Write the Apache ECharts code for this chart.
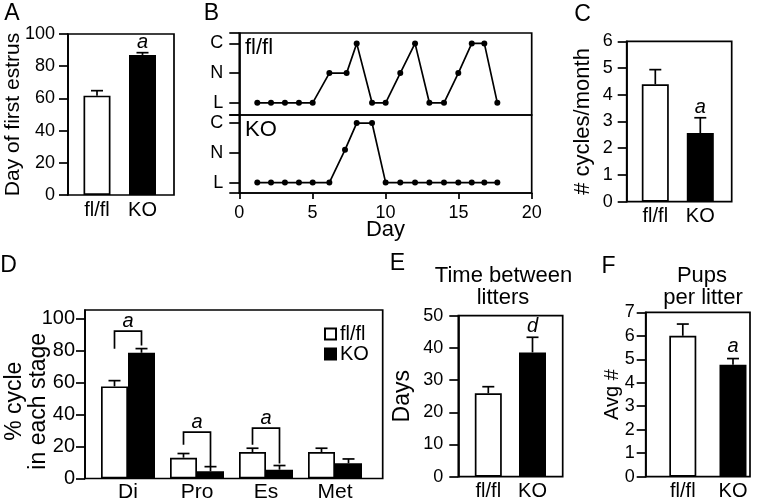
<!DOCTYPE html>
<html><head><meta charset="utf-8">
<script src="https://cdn.jsdelivr.net/npm/echarts@6/dist/echarts.min.js"></script>
<style>html,body{margin:0;padding:0;background:#fff}#c{width:762px;height:499px}</style>
</head><body><div id="c"></div>
<script>
// ---------- DATA ----------
const groups = ['fl/fl', 'KO'];
const groupFill = ['#ffffff', '#000000'];

// A: day of first estrus
const firstEstrus = [61.7, 87.0];
const firstEstrusErr = [3.1, 1.4];
const firstEstrusSig = ['', 'a'];

// B: representative cycles (L=0, N=1, C=2)
const stageLabels = ['L', 'N', 'C'];
const dayFlfl = [1.23, 2.17, 3.12, 4.08, 5.02, 6.16, 7.34, 8.03, 9.08, 10.01, 11.01, 12.02, 13.0, 14.0, 14.98, 15.9, 16.76, 17.65];
const stageFlfl = [0, 0, 0, 0, 0, 1, 1, 2, 0, 0, 1, 2, 0, 0, 1, 2, 2, 0];
const dayKO = [1.23, 2.17, 3.12, 4.08, 5.02, 6.16, 7.23, 8.03, 9.08, 10.01, 11.01, 12.02, 13.0, 14.0, 14.98, 15.9, 16.76, 17.65];
const stageKO = [0, 0, 0, 0, 0, 0, 1.1, 2, 2, 0, 0, 0, 0, 0, 0, 0, 0, 0];

// C: cycles per month
const cyclesPerMonth = [4.39, 2.57];
const cyclesErr = [0.55, 0.57];
const cyclesSig = ['', 'a'];

// D: % of cycle in each stage
const stages = ['Di', 'Pro', 'Es', 'Met'];
const stageFlflPct = [57.5, 13.0, 16.5, 16.5];
const stageFlflErr = [3.6, 2.6, 2.4, 2.4];
const stageKOPct = [78.5, 4.5, 5.5, 9.5];
const stageKOErr = [2.6, 2.9, 2.6, 2.7];
const bracketStage = [0, 1, 2];
const bracketTop = [92, 29, 31.5];
const bracketLeftEnd = [81, 21, 21];
const bracketRightEnd = [83, 7.8, 9.3];
const bracketSig = ['a', 'a', 'a'];

// E: time between litters
const litterInterval = [25.9, 38.6];
const litterErr = [2.05, 4.7];
const litterSig = ['', 'd'];

// F: pups per litter
const pups = [6.0, 4.77];
const pupsErr = [0.5, 0.26];
const pupsSig = ['', 'a'];

// ---------- STYLE ----------
const FONT = 'Liberation Sans, Arial, Helvetica, sans-serif';
const LW = 1.7;
const black = '#000';

function outerGrid(l, t, w, h) {
  return { left: l, top: t, width: w, height: h, show: true, borderColor: black, borderWidth: LW,
           backgroundColor: 'transparent', containLabel: false, outerBoundsMode: 'none' };
}
function innerGrid(l, t, w, h) {
  return { left: l, top: t, width: w, height: h, containLabel: false, outerBoundsMode: 'none' };
}
function hiddenX(g) { return { gridIndex: g, type: 'value', show: false, min: 0, max: 1 }; }
function catX(g, data, fs, margin) {
  return { gridIndex: g, type: 'category', data: data,
    axisLine: { show: false }, axisTick: { show: false }, splitLine: { show: false },
    axisLabel: { color: black, fontSize: fs, fontFamily: FONT, margin: margin, interval: 0 } };
}
function valY(g, max, ticks, fs, margin, name, nameGap, nameFs, namePad) {
  return { gridIndex: g, type: 'value', min: 0, max: max,
    axisLine: { show: true, lineStyle: { color: black, width: LW } },
    axisTick: { show: true, length: 9, customValues: ticks, lineStyle: { color: black, width: LW } },
    axisLabel: { color: black, fontSize: fs, fontFamily: FONT, margin: margin, customValues: ticks },
    splitLine: { show: false },
    name: name, nameLocation: 'middle', nameGap: nameGap, nameRotate: 90, nameMoveOverlap: false,
    nameTextStyle: { color: black, fontSize: nameFs, fontFamily: FONT, padding: namePad || 0, lineHeight: nameFs + 1 } };
}
function hiddenY(g, max) { return { gridIndex: g, type: 'value', show: false, min: 0, max: max }; }

function barSeries(axis, values, name, bw) {
  return { type: 'bar', name: name, xAxisIndex: axis, yAxisIndex: axis, barWidth: bw, silent: true,
    data: values.map((v, i) => ({ value: v, itemStyle: { color: groupFill[i], borderColor: black, borderWidth: LW } })) };
}
function errorSeries(axis, values, errs, sigs, offset, capHalf, sigGap) {
  return { type: 'custom', xAxisIndex: axis, yAxisIndex: axis, z: 5, silent: true,
    data: values.map((v, i) => [i, v, errs[i]]),
    renderItem: function (params, api) {
      const i = api.value(0), v = api.value(1), e = api.value(2);
      const base = api.coord([i, v]);
      const top = api.coord([i, v + e]);
      const x = base[0] + offset;
      const ch = [
        { type: 'line', shape: { x1: x, y1: base[1], x2: x, y2: top[1] }, style: { stroke: black, lineWidth: LW } },
        { type: 'line', shape: { x1: x - capHalf, y1: top[1], x2: x + capHalf, y2: top[1] }, style: { stroke: black, lineWidth: LW } }
      ];
      if (sigs && sigs[params.dataIndex]) {
        ch.push({ type: 'text', x: x, y: top[1] - sigGap,
          style: { text: sigs[params.dataIndex], fill: black, fontSize: 20, fontStyle: 'italic', fontFamily: FONT, align: 'center', verticalAlign: 'middle' } });
      }
      return { type: 'group', children: ch };
    } };
}

const option = {
  animation: false,
  backgroundColor: '#fff',
  textStyle: { fontFamily: FONT, color: black },
  grid: [
    outerGrid(68, 34, 106, 161), innerGrid(74.25, 34, 91, 161),          // A
    outerGrid(239.3, 33, 292.4, 82), outerGrid(239.3, 115, 292.4, 78),    // B
    outerGrid(626.7, 41.3, 105, 160.4), innerGrid(632.8, 41.3, 90, 160.4),// C
    outerGrid(85, 310, 297.7, 168.5), innerGrid(93.5, 310, 276, 168.5),   // D
    outerGrid(458.3, 315.7, 104.4, 161), innerGrid(466.2, 315.7, 88.4, 161), // E
    outerGrid(645.7, 312.3, 104.3, 164.4), innerGrid(657.7, 312.3, 100.4, 164.4) // F
  ],
  xAxis: [
    hiddenX(0), catX(1, groups, 20, 5),
    { gridIndex: 2, type: 'value', min: 0, max: 20, interval: 5, show: false },
    { gridIndex: 3, type: 'value', min: 0, max: 20, interval: 5,
      axisLine: { show: true, onZero: false, lineStyle: { color: black, width: LW } },
      axisTick: { show: true, length: 6, lineStyle: { color: black, width: LW } },
      axisLabel: { color: black, fontSize: 18, fontFamily: FONT, margin: 11 },
      splitLine: { show: false },
      name: 'Day', nameLocation: 'middle', nameGap: 26, nameMoveOverlap: false,
      nameTextStyle: { color: black, fontSize: 22, fontFamily: FONT } },
    hiddenX(4), catX(5, groups, 20, 5),
    hiddenX(6), catX(7, stages, 21, 3),
    hiddenX(8), catX(9, groups, 20, 5),
    hiddenX(10), catX(11, groups, 20, 5)
  ],
  yAxis: [
    valY(0, 100, [0, 20, 40, 60, 80, 100], 18, 13, 'Day of first estrus', 44, 21),
    hiddenY(1, 100),
    { gridIndex: 2, type: 'value', min: -0.41, max: 2.35,
      axisLine: { show: true, onZero: false, lineStyle: { color: black, width: LW } },
      axisTick: { show: true, length: 10, customValues: [-0.41, 0, 1, 2, 2.35], lineStyle: { color: black, width: LW } },
      axisLabel: { color: black, fontSize: 18, fontFamily: FONT, margin: 16, customValues: [0, 1, 2], formatter: v => stageLabels[Math.round(v)] },
      splitLine: { show: false } },
    { gridIndex: 3, type: 'value', min: -0.35, max: 2.27,
      axisLine: { show: true, onZero: false, lineStyle: { color: black, width: LW } },
      axisTick: { show: true, length: 10, customValues: [-0.35, 0, 1, 2, 2.27], lineStyle: { color: black, width: LW } },
      axisLabel: { color: black, fontSize: 18, fontFamily: FONT, margin: 16, customValues: [0, 1, 2], formatter: v => stageLabels[Math.round(v)] },
      splitLine: { show: false } },
    valY(4, 6, [0, 1, 2, 3, 4, 5, 6], 18, 14, '# cycles/month', 32, 22),
    hiddenY(5, 6),
    valY(6, 105.2, [0, 20, 40, 60, 80, 100], 20, 10, '% cycle\nin each stage', 34, 23, [0, 14, 0, 0]),
    hiddenY(7, 105.2),
    valY(8, 50, [0, 10, 20, 30, 40, 50], 18, 15, 'Days', 44, 23),
    hiddenY(9, 50),
    valY(10, 7, [0, 1, 2, 3, 4, 5, 6, 7], 18, 11, 'Avg #', 23, 20),
    hiddenY(11, 7)
  ],
  legend: {
    data: ['fl/fl', 'KO'], orient: 'vertical', left: 324, top: 324, padding: 0,
    icon: 'rect', itemWidth: 11, itemHeight: 11, itemGap: 0,
    textStyle: { color: black, fontSize: 20, fontFamily: FONT, lineHeight: 19, padding: [0, 0, 0, -1] },
    selectedMode: false
  },
  series: [
    // A
    barSeries(1, firstEstrus, 'firstEstrus', 27),
    errorSeries(1, firstEstrus, firstEstrusErr, firstEstrusSig, 0, 6, 10),
    // B
    { type: 'line', xAxisIndex: 2, yAxisIndex: 2, data: dayFlfl.map((d, i) => [d, stageFlfl[i]]),
      symbol: 'circle', symbolSize: 6, lineStyle: { color: black, width: LW }, itemStyle: { color: black }, silent: true },
    { type: 'line', xAxisIndex: 3, yAxisIndex: 3, data: dayKO.map((d, i) => [d, stageKO[i]]),
      symbol: 'circle', symbolSize: 6, lineStyle: { color: black, width: LW }, itemStyle: { color: black }, silent: true },
    // C
    barSeries(5, cyclesPerMonth, 'cycles', 27),
    errorSeries(5, cyclesPerMonth, cyclesErr, cyclesSig, 0, 6, 10),
    // D
    { type: 'bar', name: 'fl/fl', xAxisIndex: 7, yAxisIndex: 7, barWidth: 27, barGap: '0%', silent: true,
      data: stageFlflPct, itemStyle: { color: '#fff', borderColor: black, borderWidth: LW } },
    { type: 'bar', name: 'KO', xAxisIndex: 7, yAxisIndex: 7, barWidth: 27, barGap: '0%', silent: true,
      data: stageKOPct, itemStyle: { color: black, borderColor: black, borderWidth: LW } },
    errorSeries(7, stageFlflPct, stageFlflErr, null, -13.5, 6, 10),
    errorSeries(7, stageKOPct, stageKOErr, null, 13.5, 6, 10),
    { type: 'custom', xAxisIndex: 7, yAxisIndex: 7, z: 6, silent: true,
      data: bracketStage.map((c, k) => [c, bracketTop[k], bracketLeftEnd[k], bracketRightEnd[k]]),
      renderItem: function (params, api) {
        const c = api.value(0);
        const pTop = api.coord([c, api.value(1)]);
        const pL = api.coord([c, api.value(2)]);
        const pR = api.coord([c, api.value(3)]);
        const xl = pTop[0] - 13.5, xr = pTop[0] + 13.5;
        return { type: 'group', children: [
          { type: 'polyline', shape: { points: [[xl, pL[1]], [xl, pTop[1]], [xr, pTop[1]], [xr, pR[1]]] },
            style: { stroke: black, lineWidth: LW, fill: null } },
          { type: 'text', x: pTop[0], y: pTop[1] - 10,
            style: { text: bracketSig[params.dataIndex], fill: black, fontSize: 20, fontStyle: 'italic', fontFamily: FONT, align: 'center', verticalAlign: 'middle' } }
        ] };
      } },
    // E
    barSeries(9, litterInterval, 'litters', 27),
    errorSeries(9, litterInterval, litterErr, litterSig, 0, 6, 11),
    // F
    barSeries(11, pups, 'pups', 27),
    errorSeries(11, pups, pupsErr, pupsSig, 0, 6, 12)
  ],
  graphic: [
    { type: 'text', x: 12, y: 14, style: { text: 'A', fontSize: 23, fontFamily: FONT, fill: black, align: 'center', verticalAlign: 'middle' } },
    { type: 'text', x: 211.5, y: 14, style: { text: 'B', fontSize: 23, fontFamily: FONT, fill: black, align: 'center', verticalAlign: 'middle' } },
    { type: 'text', x: 582.5, y: 14.5, style: { text: 'C', fontSize: 23, fontFamily: FONT, fill: black, align: 'center', verticalAlign: 'middle' } },
    { type: 'text', x: 8.5, y: 266, style: { text: 'D', fontSize: 23, fontFamily: FONT, fill: black, align: 'center', verticalAlign: 'middle' } },
    { type: 'text', x: 397.5, y: 264, style: { text: 'E', fontSize: 23, fontFamily: FONT, fill: black, align: 'center', verticalAlign: 'middle' } },
    { type: 'text', x: 608.5, y: 266.5, style: { text: 'F', fontSize: 23, fontFamily: FONT, fill: black, align: 'center', verticalAlign: 'middle' } },
    { type: 'text', x: 245, y: 48, style: { text: 'fl/fl', fontSize: 22, fontFamily: FONT, fill: black, align: 'left', verticalAlign: 'middle' } },
    { type: 'text', x: 245, y: 130, style: { text: 'KO', fontSize: 22, fontFamily: FONT, fill: black, align: 'left', verticalAlign: 'middle' } },
    { type: 'text', x: 503.5, y: 276, style: { text: 'Time between', fontSize: 22, fontFamily: FONT, fill: black, align: 'center', verticalAlign: 'middle' } },
    { type: 'text', x: 503, y: 298, style: { text: 'litters', fontSize: 22, fontFamily: FONT, fill: black, align: 'center', verticalAlign: 'middle' } },
    { type: 'text', x: 702, y: 276, style: { text: 'Pups', fontSize: 22, fontFamily: FONT, fill: black, align: 'center', verticalAlign: 'middle' } },
    { type: 'text', x: 703, y: 298, style: { text: 'per litter', fontSize: 22, fontFamily: FONT, fill: black, align: 'center', verticalAlign: 'middle' } }
  ]
};

const chart = echarts.init(document.getElementById('c'), null, { renderer: 'canvas' });
chart.setOption(option);
</script>
</body></html>
